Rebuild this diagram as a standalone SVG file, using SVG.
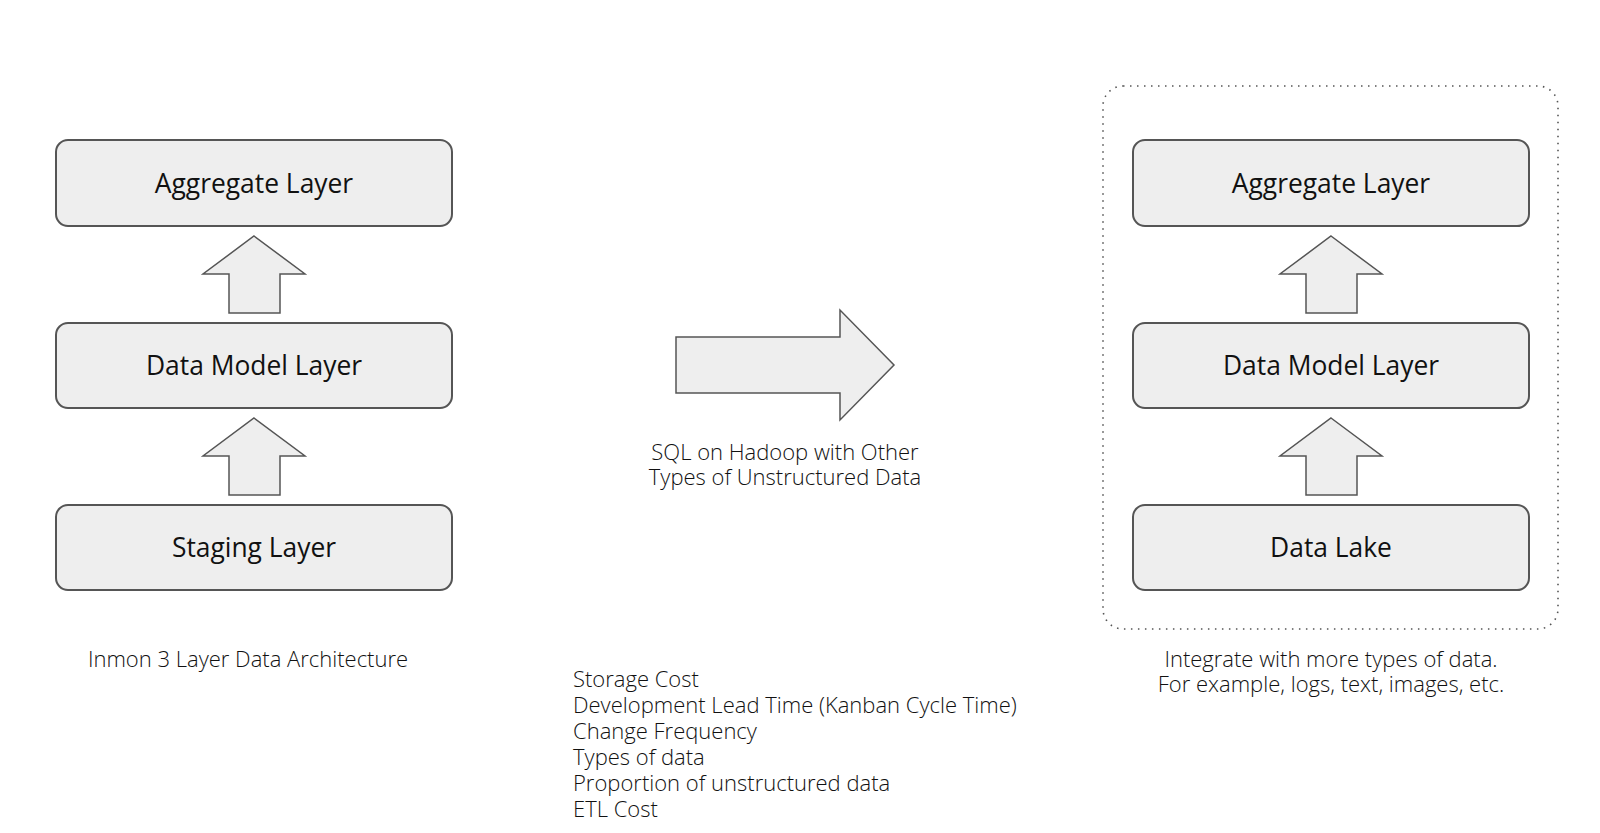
<svg xmlns="http://www.w3.org/2000/svg" width="1600" height="833" viewBox="0 0 1600 833">
<style>
.box{fill:#eeeeee;stroke:#555555;stroke-width:2}
.arr{fill:#eeeeee;stroke:#555555;stroke-width:1.5;stroke-linejoin:miter}
.lbl{font-family:"Open Sans","Liberation Sans",sans-serif;font-size:26.4px;fill:#111;text-anchor:middle}
.cap{font-family:"Open Sans","Liberation Sans",sans-serif;font-size:22px;font-weight:300;fill:#111}
.mid{text-anchor:middle}
</style>
<rect width="1600" height="833" fill="#ffffff"/>
<g id="left-aggregate"><rect class="box" x="56" y="140" width="396" height="86" rx="12"/><text class="lbl" x="254" y="193">Aggregate Layer</text></g>
<g id="left-datamodel"><rect class="box" x="56" y="323" width="396" height="85" rx="12"/><text class="lbl" x="254" y="375">Data Model Layer</text></g>
<g id="left-staging"><rect class="box" x="56" y="505" width="396" height="85" rx="12"/><text class="lbl" x="254" y="557">Staging Layer</text></g>
<g id="right-container"><rect x="1103" y="86" width="455" height="543" rx="20" fill="none" stroke="#555" stroke-width="1.6" stroke-dasharray="1.5 5.5"/></g>
<g id="right-aggregate"><rect class="box" x="1133" y="140" width="396" height="86" rx="12"/><text class="lbl" x="1331" y="193">Aggregate Layer</text></g>
<g id="right-datamodel"><rect class="box" x="1133" y="323" width="396" height="85" rx="12"/><text class="lbl" x="1331" y="375">Data Model Layer</text></g>
<g id="right-datalake"><rect class="box" x="1133" y="505" width="396" height="85" rx="12"/><text class="lbl" x="1331" y="557">Data Lake</text></g>
<g id="connectors">
<polygon class="arr" points="254,236 305,274 280,274 280,313 229,313 229,274 203,274"/>
<polygon class="arr" points="254,418 305,456 280,456 280,495 229,495 229,456 203,456"/>
<polygon class="arr" points="1331,236 1382,274 1357,274 1357,313 1306,313 1306,274 1280,274"/>
<polygon class="arr" points="1331,418 1382,456 1357,456 1357,495 1306,495 1306,456 1280,456"/>
<polygon class="arr" points="676,337 840,337 840,310 894,365 840,420 840,393 676,393"/>
</g>
<g id="labels">
<text class="cap mid" x="785" y="460">SQL on Hadoop with Other</text>
<text class="cap mid" x="785" y="485">Types of Unstructured Data</text>
<text class="cap mid" x="248" y="667">Inmon 3 Layer Data Architecture</text>
<text class="cap mid" x="1331" y="667">Integrate with more types of data.</text>
<text class="cap mid" x="1331" y="692">For example, logs, text, images, etc.</text>
<text class="cap" x="573" y="687">Storage Cost</text>
<text class="cap" x="573" y="713">Development Lead Time (Kanban Cycle Time)</text>
<text class="cap" x="573" y="739">Change Frequency</text>
<text class="cap" x="573" y="765">Types of data</text>
<text class="cap" x="573" y="791">Proportion of unstructured data</text>
<text class="cap" x="573" y="817">ETL Cost</text>
</g>
</svg>
